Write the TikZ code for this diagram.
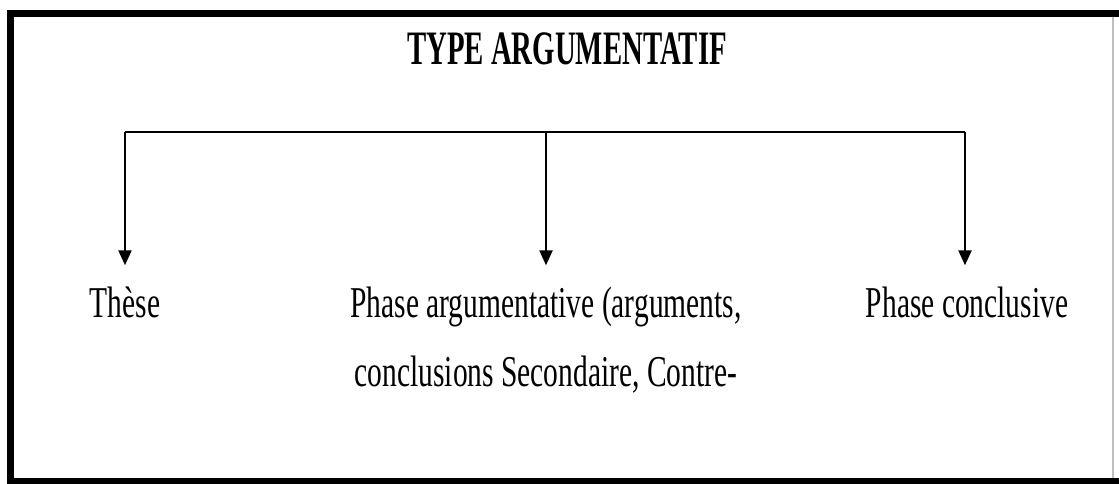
\documentclass[tikz,border=0pt]{standalone}
\usepackage{fontspec}
\setmainfont{Liberation Serif}
\newfontfamily\corps[FakeStretch=0.67]{Liberation Serif}
\newfontfamily\titre[FakeStretch=0.6]{Liberation Serif}
\usetikzlibrary{arrows.meta}

\begin{document}
\begin{tikzpicture}[x=1pt,y=1pt,line width=2.3pt,
  lab/.style={font=\corps\fontsize{44}{69}\selectfont,inner sep=0pt,anchor=base,align=center},
  fleche/.style={-{Triangle[length=15pt,width=13pt]},shorten >=20pt}]
\useasboundingbox (0,0) rectangle (1119,483);
% cadre
\draw[line width=7pt] (1119,469.5) -- (10,469.5) -- (10,2) -- (1119,2);
\draw[line width=1.5pt,black!25] (1113,466) -- (1113,5);
\node[font=\titre\bfseries\fontsize{48}{58}\selectfont,inner sep=0pt,anchor=base] (titre) at (567,418) {TYPE ARGUMENTATIF};
% barre
\coordinate (b1) at (125,351);
\coordinate (b2) at (546,351);
\coordinate (b3) at (965,351);
\draw (b1) -- (b3);
\node[lab] (these) at (125,166) {Thèse};
\node[lab] (phase) at (546,97) {Phase argumentative (arguments,\\conclusions Secondaire, Contre-};
\node[lab] (concl) at (967,166) {Phase conclusive};
\draw[fleche] (b1) -- (these.north);
\draw[fleche] (b2) -- (b2 |- phase.north);
\draw[fleche] (b3) -- (concl.north -| b3);
\end{tikzpicture}
\end{document}
